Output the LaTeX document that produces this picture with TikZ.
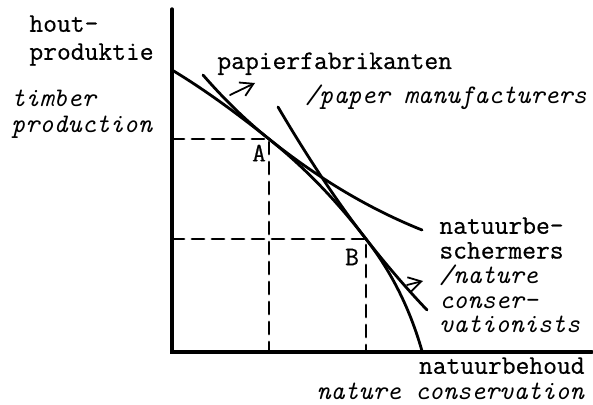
\documentclass[tikz,border=0pt]{standalone}
\usepackage{fontspec}
\setmonofont{Latin Modern Mono}[UprightFeatures={FakeBold=0.6}]
\usetikzlibrary{arrows.meta}

\begin{document}
\begin{tikzpicture}[
    x=0.5pt, y=-0.5pt,
    >={Straight Barb[length=2.2mm,width=2.6mm]},
    every path/.style={line cap=round},
]
% ── Styles ──
\tikzset{
    axis/.style={line width=1.7pt},
    curve/.style={line width=1.4pt},
    guide/.style={line width=1.4pt, dash pattern=on 6pt off 4pt},
    pointer/.style={->, line width=0.9pt},
    nl/.style={font=\ttfamily\fontsize{13.4}{12.4}\selectfont, inner sep=0pt, align=left},
    en/.style={nl, font=\ttfamily\itshape\fontsize{13.4}{13}\selectfont},
}
\useasboundingbox (0,0) rectangle (593,405);

% ── Axes ──
\coordinate (O) at (172,352);
\coordinate (ytop) at (172,9);
\coordinate (xend) at (592,352);
\draw[axis] (ytop) -- (O) -- (xend);

% ── Points of tangency ──
\coordinate (A) at (269,139);
\coordinate (B) at (366,239);

% ── Transformation curve ──
\draw[curve] (172,70) .. controls (204,89.2) and (237,113.4) .. (A)
    .. controls (301,164.6) and (333,196.1) .. (B)
    .. controls (385,263.7) and (407,298.5) .. (422,351);

% ── Indifference curves ──
\draw[curve] (203,75) .. controls (225,100.3) and (247,121.4) .. (A)
    .. controls (320,179.8) and (371,209.6) .. (422,230);
\draw[curve] (278,107) .. controls (307,156.3) and (337,201.9) .. (B)
    .. controls (386,264.6) and (407,289) .. (427,310);

% ── Dashed guides ──
\draw[guide] (A -| O) -- (A) -- (A |- O);
\draw[guide] (B -| O) -- (B) -- (B |- O);

\node[nl] (labA) at (259,153) {A};
\node[nl] (labB) at (352,257) {B};

% ── Axis labels ──
\node[nl, anchor=north west] (yl) at (29,15) {hout-\\[1.6pt]produktie};
\node[en, anchor=north west] (yen) at (11,90) {timber\\production};
\node[nl, anchor=north east, align=right] (xl) at (585,357)
    {natuurbehoud\\[0.6pt]\textit{nature conservation}};

% ── Curve labels ──
\node[nl, anchor=base west] (pm) at (217,69) {papierfabrikanten};
\node[en, anchor=base west] (pmen) at (305,104) {/paper manufacturers};
\node[nl, anchor=north west] (nc) at (439,217)
    {natuurbe-\\schermers\\\textit{/nature}\\\textit{conser-}\\\textit{vationists}};

% ── Pointers ──
\coordinate (pm0) at (230,95);
\coordinate (pm1) at (255,83);
\draw[pointer] (pm0) -- (pm1);
\coordinate (nc0) at (407,285);
\coordinate (nc1) at (423,281);
\draw[pointer] (nc0) -- (nc1);

\end{tikzpicture}
\end{document}
